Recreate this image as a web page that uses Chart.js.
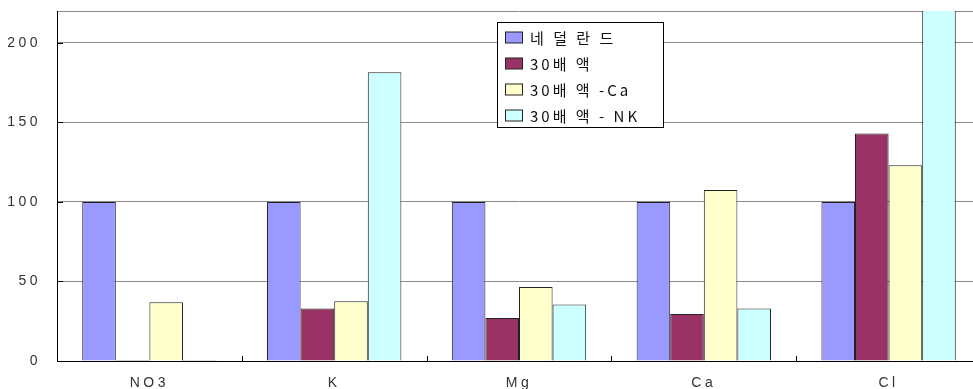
<!DOCTYPE html>
<html>
<head>
<meta charset="utf-8">
<script src="https://cdn.jsdelivr.net/npm/chart.js@4"></script>
<style>
  html, body { margin: 0; padding: 0; background: #fff; overflow: hidden; }
  #wrap { width: 981px; height: 389px; position: relative; }
</style>
</head>
<body>
<div id="wrap"><canvas id="ionChart"></canvas></div>
<script>
const categories = ['NO3', 'K', 'Mg', 'Ca', 'Cl'];
const seriesNames = ['네 덜 란 드', '30배 액', '30배 액 -Ca', '30배 액 - NK'];
const netherlands = [100, 100, 100, 100, 100];
const times30 = [0.5, 33, 27, 29.5, 143];
const times30Ca = [37, 37.5, 46.5, 107.5, 123];
const times30NK = [0.5, 181.5, 35.5, 33, 240];
const yTicks = [0, 50, 100, 150, 200];

const colors = ['#9999FF', '#993366', '#FFFFCC', '#CCFFFF'];

// wide letter spacing, like the original fonts
const spacing = {
  id: 'spacing',
  beforeDraw(chart) { chart.ctx.letterSpacing = '3.5px'; }
};

// short tick marks pointing into the plot
const innerTicks = {
  id: 'innerTicks',
  afterDraw(chart) {
    const c = chart.ctx;
    const x = chart.scales.x, y = chart.scales.y;
    const step = (x.right - x.left) / categories.length;
    c.save();
    c.strokeStyle = '#000';
    c.lineWidth = 1;
    c.beginPath();
    for (let i = 1; i < categories.length; i++) {
      const px = Math.round(x.left + i * step) + 0.5;
      c.moveTo(px, y.bottom - 5);
      c.lineTo(px, y.bottom);
    }
    yTicks.forEach(v => {
      const py = Math.round(y.getPixelForValue(v)) + 0.5;
      c.moveTo(y.right, py);
      c.lineTo(y.right + 6, py);
    });
    c.stroke();
    c.restore();
  }
};

// legend box drawn inside the plot, like the original
const boxLegend = {
  id: 'boxLegend',
  afterDraw(chart) {
    const c = chart.ctx;
    c.save();
    c.letterSpacing = '3px';
    c.fillStyle = '#fff';
    c.fillRect(497, 22, 166, 105);
    c.strokeStyle = '#000';
    c.lineWidth = 1;
    c.strokeRect(497.5, 22.5, 166, 105);
    c.font = '15px "Noto Sans CJK KR", sans-serif';
    c.textBaseline = 'middle';
    chart.data.datasets.forEach((ds, i) => {
      const y = 37.5 + i * 26;
      c.fillStyle = ds.backgroundColor;
      c.fillRect(505.5, y - 5.5, 17, 11);
      c.strokeStyle = '#222';
      c.strokeRect(505.5, y - 5.5, 17, 11);
      c.fillStyle = '#111';
      c.fillText(ds.label, 530, y + 1);
    });
    c.restore();
  }
};

const ctx = document.getElementById('ionChart').getContext('2d');
const ionChart = new Chart(ctx, {
  type: 'bar',
  data: {
    labels: categories,
    datasets: [netherlands, times30, times30Ca, times30NK].map((d, i) => ({
      label: seriesNames[i],
      data: d,
      backgroundColor: colors[i],
      borderColor: '#222',
      borderWidth: 1,
      borderSkipped: 'bottom',
      minBarLength: 1
    }))
  },
  options: {
    responsive: true,
    maintainAspectRatio: false,
    animation: false,
    layout: { padding: { top: 11, right: 0, left: 0, bottom: 0 } },
    plugins: {
      legend: { display: false },
      tooltip: { enabled: false }
    },
    datasets: {
      bar: { categoryPercentage: 0.727, barPercentage: 1 }
    },
    scales: {
      x: {
        grid: { display: false, drawTicks: false, tickLength: 0 },
        border: { color: '#000', width: 1 },
        ticks: {
          color: '#333',
          font: { family: '"Liberation Sans", Arial, sans-serif', size: 14 },
          padding: 14,
          maxRotation: 0
        },
        afterFit(scale) {
          scale.height = 28;
          scale.paddingLeft = 0;
          scale.paddingRight = 0;
        }
      },
      y: {
        min: 0,
        max: 220,
        afterBuildTicks(scale) {
          scale.ticks = yTicks.concat([220]).map(v => ({ value: v }));
        },
        grid: {
          color: '#8a8a8a',
          tickLength: 0
        },
        border: { color: '#000', width: 1 },
        ticks: {
          color: '#333',
          font: { family: '"Liberation Sans", Arial, sans-serif', size: 14 },
          padding: 16,
          callback: v => (yTicks.includes(v) ? v : '')
        },
        afterFit(scale) {
          scale.width = 57;
          scale.paddingTop = 0;
          scale.paddingBottom = 0;
        }
      }
    }
  },
  plugins: [spacing, innerTicks, boxLegend]
});
</script>
</body>
</html>
